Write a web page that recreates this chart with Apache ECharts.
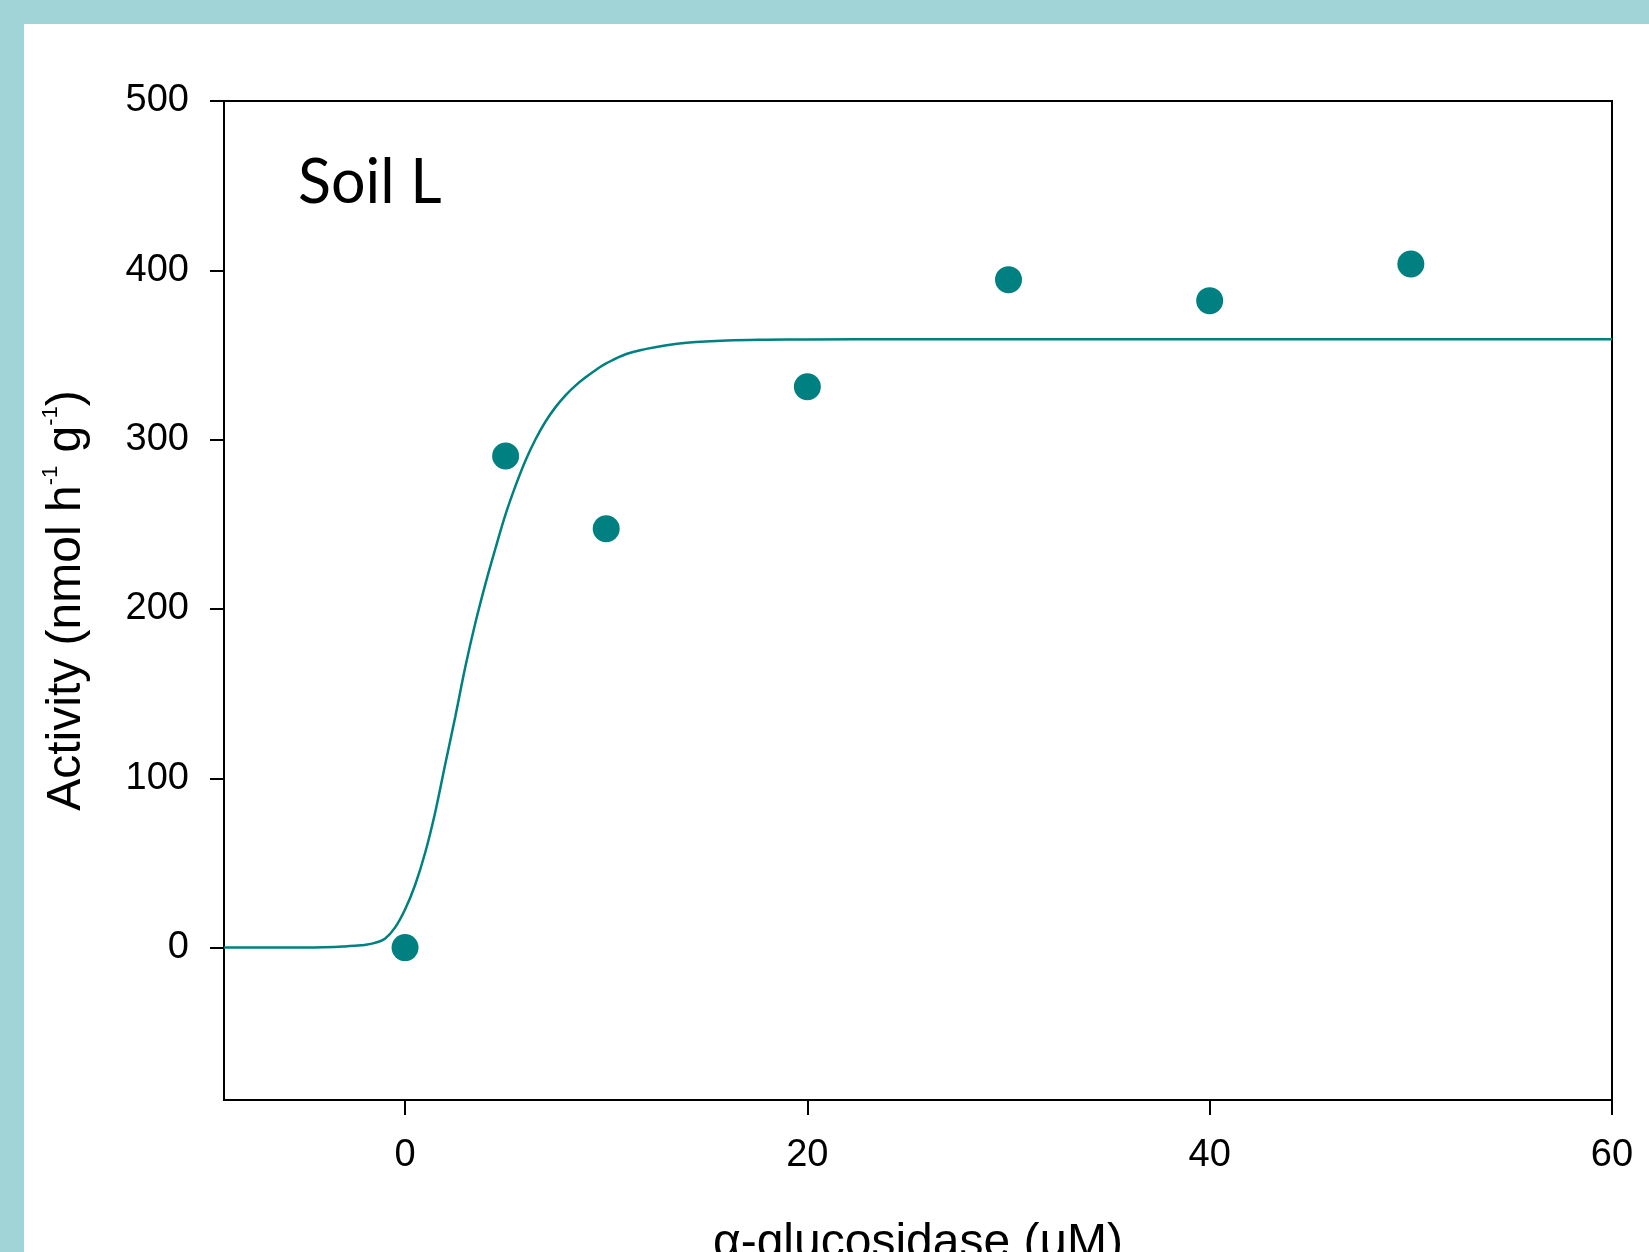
<!DOCTYPE html>
<html>
<head>
<meta charset="utf-8">
<script src="https://cdn.jsdelivr.net/npm/echarts@6/dist/echarts.min.js"></script>
<style>
  html, body { margin: 0; padding: 0; background: #ffffff; overflow: hidden; }
  #chart { width: 1649px; height: 1252px; }
</style>
</head>
<body>
<div id="chart"></div>
<script>
// Measured data points
const pointX = [0, 5, 10, 20, 30, 40, 50];
const pointY = [0, 290.3, 247.4, 331.2, 394.5, 382.1, 403.7];

// Fitted curve
const curveX = [-9, -6, -4.5, -3.5, -3, -2.5, -2, -1.5, -1, -0.5, 0, 0.5, 1, 1.5, 2, 2.5, 3, 3.5, 4, 4.5, 5, 5.5, 6, 6.5, 7, 7.5, 8, 8.5, 9, 9.5, 10, 11, 12, 13, 14, 16, 18, 20, 25, 30, 40, 50, 60];
const curveY = [0, 0, 0.1, 0.4, 0.7, 1.1, 1.6, 2.8, 5.3, 11.8, 22.5, 37, 56, 80, 108.5, 136.5, 166, 192, 215, 236, 256, 273, 288, 300.5, 311, 319.5, 326.5, 332.2, 337, 341.3, 345, 350.6, 353.6, 355.8, 357.2, 358.5, 359, 359.2, 359.3, 359.3, 359.3, 359.3, 359.3];

// Axes
const xTicks = [0, 20, 40, 60];
const yTicks = [0, 100, 200, 300, 400, 500];
const xRange = [-9, 60];
const yRange = [-90, 500];

const panelTitle = 'Soil L';
const xTitle = 'α-glucosidase (μM)';
const yTitle = 'Activity (nmol h{sup|-1} g{sup|-1})';

const teal = '#008080';
const band = '#a1d4d7';
const tickFont = 'Liberation Sans, Arial, sans-serif';

const chart = echarts.init(document.getElementById('chart'), null, { renderer: 'canvas' });

const option = {
  backgroundColor: '#ffffff',
  animation: false,
  grid: {
    left: 224, right: 37, top: 101, bottom: 152,
    outerBoundsMode: 'none', containLabel: false,
    show: true, borderColor: '#000', borderWidth: 2, backgroundColor: 'transparent'
  },
  xAxis: {
    type: 'value', min: xRange[0], max: xRange[1],
    splitLine: { show: false },
    axisLine: { show: true, onZero: false, lineStyle: { color: '#000', width: 2 } },
    axisTick: { show: true, customValues: xTicks, length: 15, inside: false, lineStyle: { color: '#000', width: 2 } },
    axisLabel: { customValues: xTicks, margin: 37, fontSize: 38, fontFamily: tickFont, color: '#000' },
    name: xTitle, nameLocation: 'middle', nameGap: 120,
    nameTextStyle: { fontSize: 48, fontFamily: tickFont, color: '#000' }
  },
  yAxis: {
    type: 'value', min: yRange[0], max: yRange[1],
    splitLine: { show: false },
    axisLine: { show: true, onZero: false, lineStyle: { color: '#000', width: 2 } },
    axisTick: { show: true, customValues: yTicks, length: 14, inside: false, lineStyle: { color: '#000', width: 2 } },
    axisLabel: { customValues: yTicks, margin: 35, fontSize: 38, fontFamily: tickFont, color: '#000' },
    name: yTitle, nameLocation: 'middle', nameGap: 130,
    nameTextStyle: {
      fontSize: 48, lineHeight: 54, fontFamily: tickFont, color: '#000',
      rich: { sup: { fontSize: 22, lineHeight: 22, verticalAlign: 'top', fontFamily: tickFont, color: '#000' } }
    }
  },
  graphic: [
    { type: 'rect', left: 0, top: 0, shape: { width: 1649, height: 24 }, style: { fill: band }, z: 100 },
    { type: 'rect', left: 0, top: 0, shape: { width: 24, height: 1252 }, style: { fill: band }, z: 100 },
    { type: 'text', x: 298, y: 183, style: { text: panelTitle, font: '61px Lato, sans-serif', fill: '#000', verticalAlign: 'middle' }, z: 50 }
  ],
  series: [
    {
      type: 'line', data: curveX.map((x, i) => [x, curveY[i]]),
      smooth: 0.4, showSymbol: false, symbol: 'none',
      lineStyle: { color: teal, width: 2.5 }, z: 2
    },
    {
      type: 'scatter', data: pointX.map((x, i) => [x, pointY[i]]),
      symbol: 'circle', symbolSize: 27,
      itemStyle: { color: teal, opacity: 1 }, z: 3
    }
  ]
};
chart.setOption(option);
</script>
</body>
</html>
